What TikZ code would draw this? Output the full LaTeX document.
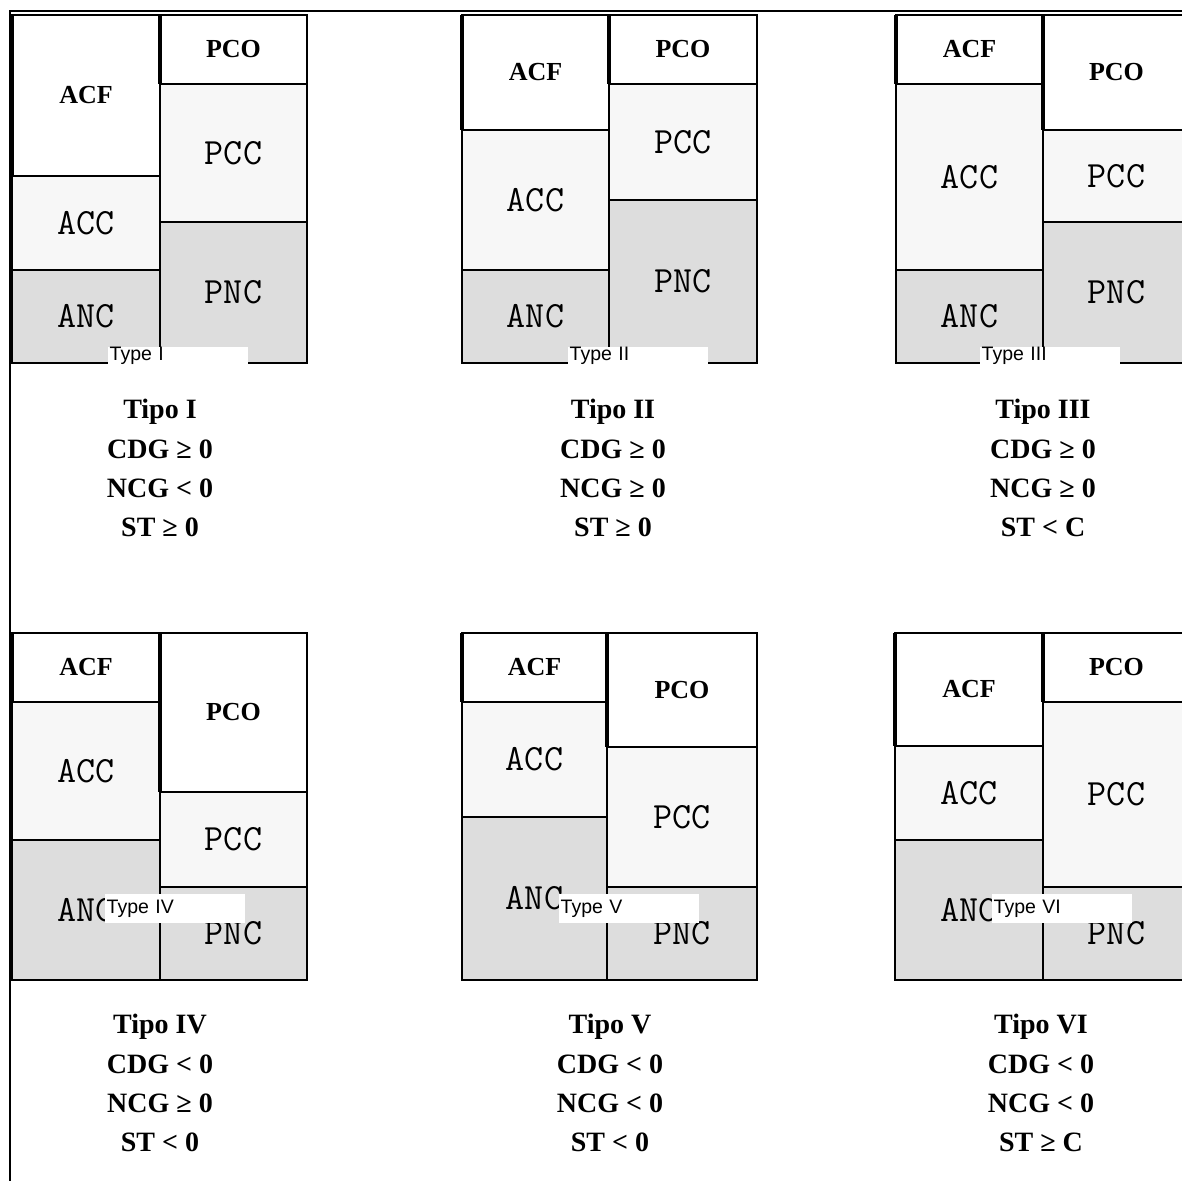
\documentclass[tikz,border=0pt]{standalone}
\usepackage{fontspec}
\setmainfont{Liberation Serif}
\newfontfamily\arialfnt{Liberation Sans}
\definecolor{lightcell}{HTML}{F7F7F7}
\definecolor{darkcell}{HTML}{DDDDDD}
\tikzset{
  cellline/.style={draw=black, line width=1.4pt},
  wcell/.style={cellline, fill=white},
  lcell/.style={cellline, fill=lightcell},
  dcell/.style={cellline, fill=darkcell},
  reglbl/.style={inner sep=0pt, font=\ttfamily\fontsize{37}{37}\selectfont},
  boldlbl/.style={inner sep=0pt, font=\fontsize{26}{26}\selectfont\bfseries},
  captxt/.style={anchor=base, inner sep=0pt, font=\fontsize{28}{28}\selectfont\bfseries},
  typebox/.style={anchor=north west, fill=white, inner sep=0pt, minimum width=140pt,
     text width=137pt, align=left, font=\arialfnt\fontsize{19.5}{19.5}\selectfont},
  outerframe/.style={draw=black, line width=2.5pt},
  thickedge/.style={draw=black, line width=4pt},
  frameline/.style={draw=black, line width=2pt},
}
% name, x0, y0, x1, y1, fill style, label style, text
\newcommand\cellbox[8]{%
  \draw[#6] (#2,-#3) rectangle (#4,-#5);
  \node[#7] (#1) at ({(#2+#4)/2},{-(#3+#5)/2}) {#8};}
% prefix, x, y(first baseline), 4 lines
\newcommand\mycaption[7]{%
  \node[captxt] (#1a) at (#2,-#3) {#4};
  \node[captxt] (#1b) at (#2,{-(#3+40)}) {#5};
  \node[captxt] (#1c) at (#2,{-(#3+79.5)}) {#6};
  \node[captxt] (#1d) at (#2,{-(#3+118)}) {#7};}
\begin{document}
\begin{tikzpicture}[x=1pt,y=1pt]
\useasboundingbox (0,0) rectangle (1182,-1180);
\clip (0,0) rectangle (1182,-1180);
\fill[white] (0,0) rectangle (1182,-1180);
% outer frame lines
\draw[frameline] (10,-1185) -- (10,-11) -- (1190,-11);

% ---------- Panel I ----------
\cellbox{acf1}{12}{15}{160}{176}{wcell}{boldlbl}{ACF}
\cellbox{acc1}{12}{176}{160}{270}{lcell}{reglbl}{ACC}
\cellbox{anc1}{12}{270}{160}{363}{dcell}{reglbl}{ANC}
\cellbox{pco1}{160}{15}{307}{84}{wcell}{boldlbl}{PCO}
\cellbox{pcc1}{160}{84}{307}{222}{lcell}{reglbl}{PCC}
\cellbox{pnc1}{160}{222}{307}{363}{dcell}{reglbl}{PNC}
\draw[outerframe] (12,-15) rectangle (307,-363);
\draw[thickedge] (12,-15) -- (12,-176);
\draw[thickedge] (160,-15) -- (160,-84);
\draw[outerframe] (12,-176) -- (160,-176);
\node[typebox] (ty1) at (108,-347) {Type I};
\mycaption{c1}{160}{418}{Tipo I}{CDG ≥ 0}{NCG < 0}{ST ≥ 0}

% ---------- Panel II ----------
\cellbox{acf2}{462}{15}{609}{130}{wcell}{boldlbl}{ACF}
\cellbox{acc2}{462}{130}{609}{270}{lcell}{reglbl}{ACC}
\cellbox{anc2}{462}{270}{609}{363}{dcell}{reglbl}{ANC}
\cellbox{pco2}{609}{15}{757}{84}{wcell}{boldlbl}{PCO}
\cellbox{pcc2}{609}{84}{757}{200}{lcell}{reglbl}{PCC}
\cellbox{pnc2}{609}{200}{757}{363}{dcell}{reglbl}{PNC}
\draw[outerframe] (462,-15) rectangle (757,-363);
\draw[thickedge] (462,-15) -- (462,-130);
\draw[thickedge] (609,-15) -- (609,-84);
\draw[outerframe] (609,-200) -- (757,-200);
\node[typebox] (ty2) at (568,-347) {Type II};
\mycaption{c2}{613}{418}{Tipo II}{CDG ≥ 0}{NCG ≥ 0}{ST ≥ 0}

% ---------- Panel III ----------
\cellbox{acf3}{896}{15}{1043}{84}{wcell}{boldlbl}{ACF}
\cellbox{acc3}{896}{84}{1043}{270}{lcell}{reglbl}{ACC}
\cellbox{anc3}{896}{270}{1043}{363}{dcell}{reglbl}{ANC}
\cellbox{pco3}{1043}{15}{1190}{130}{wcell}{boldlbl}{PCO}
\cellbox{pcc3}{1043}{130}{1190}{222}{lcell}{reglbl}{PCC}
\cellbox{pnc3}{1043}{222}{1190}{363}{dcell}{reglbl}{PNC}
\draw[outerframe] (896,-15) rectangle (1190,-363);
\draw[thickedge] (896,-15) -- (896,-84);
\draw[thickedge] (1043,-15) -- (1043,-130);
\node[typebox] (ty3) at (980,-347) {Type III};
\mycaption{c3}{1043}{418}{Tipo III}{CDG ≥ 0}{NCG ≥ 0}{ST < C}

% ---------- Panel IV ----------
\cellbox{acf4}{12}{633}{160}{702}{wcell}{boldlbl}{ACF}
\cellbox{acc4}{12}{702}{160}{840}{lcell}{reglbl}{ACC}
\cellbox{anc4}{12}{840}{160}{980}{dcell}{reglbl}{ANC}
\cellbox{pco4}{160}{633}{307}{792}{wcell}{boldlbl}{PCO}
\cellbox{pcc4}{160}{792}{307}{887}{lcell}{reglbl}{PCC}
\cellbox{pnc4}{160}{887}{307}{980}{dcell}{reglbl}{PNC}
\draw[outerframe] (12,-633) rectangle (307,-980);
\draw[thickedge] (12,-633) -- (12,-702);
\draw[thickedge] (160,-633) -- (160,-792);
\node[typebox, minimum height=29pt] (ty4) at (105,-894) {Type IV};
\mycaption{c4}{160}{1033}{Tipo IV}{CDG < 0}{NCG ≥ 0}{ST < 0}

% ---------- Panel V ----------
\cellbox{acf5}{462}{633}{607}{702}{wcell}{boldlbl}{ACF}
\cellbox{acc5}{462}{702}{607}{817}{lcell}{reglbl}{ACC}
\cellbox{anc5}{462}{817}{607}{980}{dcell}{reglbl}{ANC}
\cellbox{pco5}{607}{633}{757}{747}{wcell}{boldlbl}{PCO}
\cellbox{pcc5}{607}{747}{757}{887}{lcell}{reglbl}{PCC}
\cellbox{pnc5}{607}{887}{757}{980}{dcell}{reglbl}{PNC}
\draw[outerframe] (462,-633) rectangle (757,-980);
\draw[thickedge] (462,-633) -- (462,-702);
\draw[thickedge] (607,-633) -- (607,-747);
\node[typebox, minimum height=29pt] (ty5) at (559,-894) {Type V};
\mycaption{c5}{610}{1033}{Tipo V}{CDG < 0}{NCG < 0}{ST < 0}

% ---------- Panel VI ----------
\cellbox{acf6}{895}{633}{1043}{746}{wcell}{boldlbl}{ACF}
\cellbox{acc6}{895}{746}{1043}{840}{lcell}{reglbl}{ACC}
\cellbox{anc6}{895}{840}{1043}{980}{dcell}{reglbl}{ANC}
\cellbox{pco6}{1043}{633}{1190}{702}{wcell}{boldlbl}{PCO}
\cellbox{pcc6}{1043}{702}{1190}{887}{lcell}{reglbl}{PCC}
\cellbox{pnc6}{1043}{887}{1190}{980}{dcell}{reglbl}{PNC}
\draw[outerframe] (895,-633) rectangle (1190,-980);
\draw[thickedge] (895,-633) -- (895,-746);
\draw[thickedge] (1043,-633) -- (1043,-702);
\node[typebox, minimum height=29pt] (ty6) at (992,-894) {Type VI};
\mycaption{c6}{1041}{1033}{Tipo VI}{CDG < 0}{NCG < 0}{ST ≥ C}
\end{tikzpicture}
\end{document}
